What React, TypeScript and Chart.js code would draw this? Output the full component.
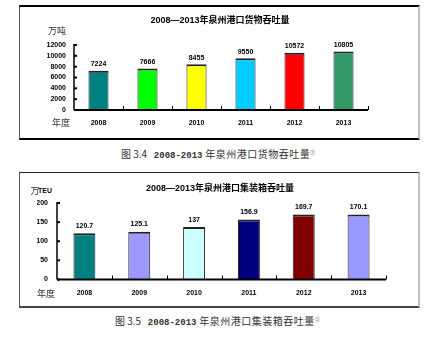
import React, { useEffect, useRef } from "react";
import { Chart, registerables } from "chart.js";

Chart.register(...registerables);

const years = ["2008", "2009", "2010", "2011", "2012", "2013"];

const cargoValues = [7224, 7666, 8455, 9550, 10572, 10805];
const cargoColors = ["#008080", "#00FF00", "#FFFF00", "#00CCFF", "#FF0000", "#339966"];
const cargoMax = 12000;
const cargoStep = 2000;

const teuValues = [120.7, 125.1, 137, 156.9, 169.7, 170.1];
const teuColors = ["#008080", "#9999FF", "#CCFFFF", "#000080", "#800000", "#9999FF"];
const teuMax = 200;
const teuStep = 50;

const FAM = "'Liberation Sans', 'Noto Sans CJK SC', sans-serif";

type Txt = { text: string; x: number; y: number; font: string; color?: string; align?: CanvasTextAlign };

type Props = {
  values: number[];
  colors: string[];
  max: number;
  step: number;
  width: number;
  height: number;
  left: number;
  top: number;
  padding: { left: number; right: number; top: number; bottom: number };
  yWidth: number;
  yPad: number;
  xPad: number;
  barPct: number;
  labelGap: number;
  texts: Txt[];
};

function BarChart(p: Props) {
  const ref = useRef<HTMLCanvasElement | null>(null);
  useEffect(() => {
    if (!ref.current) return;
    const decor = {
      id: "decor",
      afterDraw(chart: any) {
        const { ctx, chartArea: a } = chart;
        const x = chart.scales.x;
        const y = chart.scales.y;
        ctx.save();
        ctx.strokeStyle = "#000";
        ctx.fillStyle = "#000";
        // y axis line
        ctx.lineWidth = 1.5;
        ctx.beginPath();
        ctx.moveTo(a.left, a.top - 1);
        ctx.lineTo(a.left, a.bottom);
        ctx.stroke();
        // inward y ticks
        y.ticks.forEach((t: any) => {
          const py = y.getPixelForValue(t.value);
          ctx.fillRect(a.left, py - 1, 3, 2);
        });
        // x axis
        ctx.lineWidth = 2;
        ctx.beginPath();
        ctx.moveTo(a.left, a.bottom);
        ctx.lineTo(a.right, a.bottom);
        ctx.stroke();
        // category boundary ticks
        ctx.lineWidth = 1;
        const n = p.values.length;
        for (let i = 1; i <= n; i++) {
          const px =
            i < n ? (x.getPixelForValue(i - 1) + x.getPixelForValue(i)) / 2 : a.right - 0.5;
          ctx.beginPath();
          ctx.moveTo(Math.round(px) + 0.5, a.bottom - 4);
          ctx.lineTo(Math.round(px) + 0.5, a.bottom);
          ctx.stroke();
        }
        // value labels
        const meta = chart.getDatasetMeta(0);
        ctx.font = `bold 7px ${FAM}`;
        ctx.textAlign = "center";
        ctx.textBaseline = "bottom";
        meta.data.forEach((bar: any, i: number) => {
          ctx.fillText(String(p.values[i]), bar.x, bar.y - p.labelGap);
        });
        // extra texts
        ctx.textBaseline = "middle";
        p.texts.forEach((t) => {
          ctx.font = t.font;
          ctx.fillStyle = t.color || "#000";
          ctx.textAlign = t.align || "center";
          ctx.fillText(t.text, t.x, t.y);
        });
        ctx.restore();
      },
    };
    const chart = new Chart(ref.current, {
      type: "bar",
      data: {
        labels: years,
        datasets: [
          {
            data: p.values,
            backgroundColor: p.colors,
            borderColor: "#222",
            borderWidth: { top: 2, left: 1, right: 1, bottom: 0 } as any,
            borderSkipped: "bottom",
            barPercentage: p.barPct,
            categoryPercentage: 1,
          },
        ],
      },
      options: {
        responsive: false,
        animation: false,
        layout: { padding: p.padding },
        plugins: { legend: { display: false }, tooltip: { enabled: false }, title: { display: false } },
        scales: {
          x: {
            grid: { display: false, drawTicks: false },
            border: { display: false },
            ticks: {
              color: "#000",
              padding: p.xPad,
              font: { family: FAM, size: 7, weight: "bold" },
              maxRotation: 0,
              autoSkip: false,
            },
            afterFit: (s: any) => {
              s.height = 20;
            },
          },
          y: {
            min: 0,
            max: p.max,
            grid: { display: false, drawTicks: false },
            border: { display: false },
            ticks: {
              stepSize: p.step,
              autoSkip: false,
              color: "#000",
              padding: p.yPad,
              font: { family: FAM, size: 7, weight: "bold" },
              callback: (v: any) => String(v),
            },
            afterFit: (s: any) => {
              s.width = p.yWidth;
            },
          },
        },
      },
      plugins: [decor],
    });
    return () => chart.destroy();
  }, []);
  return (
    <canvas
      ref={ref}
      width={p.width}
      height={p.height}
      style={{ position: "absolute", left: p.left, top: p.top, width: p.width, height: p.height }}
    />
  );
}

const titleFont = `bold 9px ${FAM}`;
const unitFont = `9px 'Noto Sans CJK SC', sans-serif`;

export default function App() {
  useEffect(() => {
    document.body.style.margin = "0";
  }, []);
  const cap: React.CSSProperties = {
    position: "absolute",
    fontFamily: "'Noto Sans CJK SC', sans-serif",
    fontSize: 10,
    color: "#333",
    whiteSpace: "pre",
    lineHeight: "12px",
  };
  const digits: React.CSSProperties = { fontFamily: "'Liberation Mono', monospace", fontSize: 9, fontWeight: "bold", color: "#333" };
  return (
    <div style={{ position: "absolute", left: 0, top: 0, width: 447, height: 338, background: "#fff", overflow: "hidden" }}>
      <div
        style={{
          position: "absolute",
          left: 19,
          top: 5,
          width: 401,
          height: 135,
          boxSizing: "border-box",
          borderTop: "2px solid #000",
          borderBottom: "2px solid #000",
          borderLeft: "1px solid #555",
          borderRight: "2px solid #c0c0c0",
        }}
      />
      <BarChart
        values={cargoValues}
        colors={cargoColors}
        max={cargoMax}
        step={cargoStep}
        width={397}
        height={131}
        left={21}
        top={7}
        padding={{ left: 23, right: 50, top: 38, bottom: 8 }}
        yWidth={30}
        yPad={8}
        xPad={9}
        barPct={0.41}
        labelGap={3}
        texts={[
          { text: "2008—2013年泉州港口货物吞吐量", x: 199, y: 14, font: titleFont },
          { text: "万吨", x: 36, y: 24, font: unitFont, color: "#333" },
          { text: "年度", x: 40, y: 116, font: unitFont, color: "#333" },
        ]}
      />
      <div style={{ ...cap, left: 121, top: 146 }}>
        图 3.4{"   "}
        <span style={digits}>2008-2013</span>
        <span style={{ letterSpacing: 0.5 }}> 年泉州港口货物吞吐量</span>
        <sup style={{ fontSize: 5 }}>①</sup>
      </div>

      <div
        style={{
          position: "absolute",
          left: 19,
          top: 172,
          width: 401,
          height: 136,
          boxSizing: "border-box",
          borderTop: "1px solid #222",
          borderBottom: "2px solid #444",
          borderLeft: "1px solid #555",
          borderRight: "2px solid #c0c0c0",
        }}
      />
      <BarChart
        values={teuValues}
        colors={teuColors}
        max={teuMax}
        step={teuStep}
        width={397}
        height={133}
        left={21}
        top={174}
        padding={{ left: 16, right: 32, top: 29, bottom: 7.5 }}
        yWidth={20}
        yPad={9}
        xPad={9}
        barPct={0.4}
        labelGap={4}
        texts={[
          { text: "2008—2013年泉州港口集装箱吞吐量", x: 199, y: 15, font: titleFont },
          { text: "万", x: 14, y: 17, font: unitFont, color: "#333" },
          { text: "TEU", x: 24, y: 17, font: `bold 7px ${FAM}`, align: "center" },
          { text: "年度", x: 25, y: 120, font: unitFont, color: "#333" },
        ]}
      />
      <div style={{ ...cap, left: 115, top: 313 }}>
        图 3.5{"   "}
        <span style={digits}>2008-2013</span>
        <span style={{ letterSpacing: 0.5 }}> 年泉州港口集装箱吞吐量</span>
        <sup style={{ fontSize: 5 }}>②</sup>
      </div>
    </div>
  );
}
